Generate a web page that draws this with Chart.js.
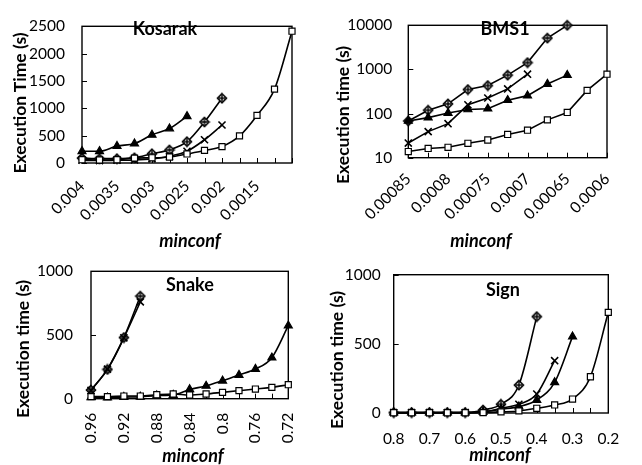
<!DOCTYPE html>
<html><head><meta charset="utf-8">
<script src="https://cdn.jsdelivr.net/npm/chart.js@4.4.1/dist/chart.umd.min.js"></script>
<style>
body{margin:0;background:#fff;width:642px;height:465px;position:relative;overflow:hidden;}
canvas{position:absolute;}
.t{position:absolute;white-space:nowrap;font-family:Lato,sans-serif;font-weight:bold;font-size:18px;color:#000;transform:translate(-50%,-50%);line-height:1;}
.r{font-size:17.5px;transform:translate(-50%,-50%) rotate(-90deg);}
.i{font-style:italic;}
</style></head><body>
<canvas id="ck" width="321" height="232" style="left:0;top:0"></canvas>
<canvas id="cb" width="321" height="232" style="left:321px;top:0"></canvas>
<canvas id="cs" width="321" height="233" style="left:0;top:232px"></canvas>
<canvas id="cg" width="321" height="233" style="left:321px;top:232px"></canvas>

<div class="t r" style="left:20px;top:103px">Execution Time (s)</div>
<div class="t" style="left:165px;top:28px">Kosarak</div>
<div class="t i" style="left:190px;top:240px">minconf</div>

<div class="t r" style="left:343px;top:115px">Execution time (s)</div>
<div class="t" style="left:505px;top:28px">BMS1</div>
<div class="t i" style="left:481px;top:240px">minconf</div>

<div class="t r" style="left:23px;top:349px">Execution time (s)</div>
<div class="t" style="left:190px;top:284px">Snake</div>
<div class="t i" style="left:193px;top:455px">minconf</div>

<div class="t r" style="left:337px;top:360px">Execution time (s)</div>
<div class="t" style="left:503px;top:289px">Sign</div>
<div class="t i" style="left:500px;top:454px">minconf</div>

<script>
// ---------------- DATA ----------------
const kosarakCats = ['0.004','0.00375','0.0035','0.00325','0.003','0.00275','0.0025','0.00225','0.002','0.00175','0.0015','0.00125','0.001'];
const kosarakTickLabels = ['0.004','0.0035','0.003','0.0025','0.002','0.0015'];
const kosarakDiamond = [90, 80, 80, 95, 170, 240, 390, 750, 1185];
const kosarakCross = [50, 45, 50, 55, 75, 125, 215, 425, 695];
const kosarakTriangle = [215, 215, 310, 355, 515, 630, 855];
const kosarakSquare = [60, 55, 60, 90, 95, 110, 165, 230, 300, 495, 870, 1350, 2410];
const kosarakYTicks = [0, 500, 1000, 1500, 2000, 2500];

const bmsCats = ['0.00085','0.000825','0.0008','0.000775','0.00075','0.000725','0.0007','0.000675','0.00065','0.000625','0.0006'];
const bmsTickLabels = ['0.00085','0.0008','0.00075','0.0007','0.00065','0.0006'];
const bmsDiamond = [68, 119, 166, 351, 432, 743, 1429, 5128, 10000];
const bmsCross = [21.5, 39, 59, 158, 225, 362, 780];
const bmsTriangle = [68, 81, 103, 124, 129, 201, 255, 468, 743];
const bmsSquare = [13.8, 16.2, 17.2, 21.2, 25.2, 33.6, 42, 72, 106, 335, 780];
const bmsYTicks = [10, 100, 1000, 10000];

const snakeCats = ['0.96','0.94','0.92','0.9','0.88','0.86','0.84','0.82','0.8','0.78','0.76','0.74','0.72'];
const snakeTickLabels = ['0.96','0.92','0.88','0.84','0.8','0.76','0.72'];
const snakeDiamond = [68, 230, 480, 805];
const snakeCross = [65, 232, 478, 760];
const snakeTriangle = [10, 8, 12, 15, 24, 29, 73, 100, 141, 186, 233, 322, 573];
const snakeSquare = [16, 16, 21, 21, 31, 37, 29, 37, 50, 63, 76, 89, 110];
const snakeYTicks = [0, 500, 1000];

const signCats = ['0.8','0.75','0.7','0.65','0.6','0.55','0.5','0.45','0.4','0.35','0.3','0.25','0.2'];
const signTickLabels = ['0.8','0.7','0.6','0.5','0.4','0.3','0.2'];
const signDiamond = [3, 3, 3, 3, 3, 22, 63, 202, 697];
const signCross = [3, 3, 3, 3, 3, 8, 34, 63, 137, 378];
const signTriangle = [3, 3, 3, 3, 3, 8, 27, 46, 94, 222, 552];
const signSquare = [2, 2, 2, 2, 2, 3, 8, 15, 34, 58, 101, 262, 728];
const signYTicks = [0, 500, 1000];

// ---------------- RENDER ----------------
const diamondImg = (() => {
  const c = document.createElement('canvas'); c.width = 12; c.height = 12;
  const g = c.getContext('2d');
  g.translate(6, 6);
  g.beginPath();
  g.moveTo(0, -4.5); g.lineTo(4.5, 0); g.lineTo(0, 4.5); g.lineTo(-4.5, 0); g.closePath();
  g.fillStyle = '#fff'; g.fill();
  g.strokeStyle = '#000'; g.lineWidth = 1.6; g.stroke();
  g.beginPath(); g.moveTo(0, -3); g.lineTo(0, 3); g.moveTo(-3, 0); g.lineTo(3, 0);
  g.lineWidth = 1.4; g.stroke();
  return c;
})();

const framePlugin = {
  id: 'frame',
  beforeDatasetsDraw(chart) {
    const {ctx, chartArea: a, scales: {x, y}} = chart;
    ctx.save();
    ctx.strokeStyle = '#000';
    ctx.lineWidth = 1;
    ctx.beginPath();
    x.ticks.forEach((t, i) => { const p = Math.round(x.getPixelForTick(i)) + 0.5; ctx.moveTo(p, a.bottom); ctx.lineTo(p, a.bottom - 5); });
    y.ticks.forEach((t, i) => { const p = Math.round(y.getPixelForTick(i)) + 0.5; ctx.moveTo(a.left, p); ctx.lineTo(a.left + 5, p); });
    ctx.stroke();
    ctx.lineWidth = 1.4;
    ctx.strokeRect(a.left, a.top, a.right - a.left, a.bottom - a.top);
    ctx.restore();
  }
};

function ds(data, style, smooth) {
  const base = {
    data, borderColor: '#000', borderWidth: 1.6, pointBorderColor: '#000',
    pointBorderWidth: 1.2, tension: smooth ? 0.4 : 0,
    cubicInterpolationMode: smooth ? 'monotone' : 'default', clip: 6
  };
  if (style === 'square') Object.assign(base, {pointStyle: 'rect', pointRadius: 4.3, pointBackgroundColor: '#fff'});
  if (style === 'triangle') Object.assign(base, {pointStyle: 'triangle', pointRadius: 4.6, pointBackgroundColor: '#000'});
  if (style === 'cross') Object.assign(base, {pointStyle: 'crossRot', pointRadius: 5, pointBorderWidth: 1.6});
  if (style === 'diamond') Object.assign(base, {pointStyle: diamondImg, pointRadius: 6});
  return base;
}

const tickFont = {family: 'Lato', size: 15.5};

function make(id, o) {
  const {cats, shown, series, yType, yMin, yMax, yTicks, rot, xPad, yPad, top, right, yW, xH, smooth} = o;
  return new Chart(document.getElementById(id), {
    type: 'line',
    data: {
      labels: cats,
      datasets: [
        ds(series[0], 'square', smooth),
        ds(series[1], 'triangle', smooth),
        ds(series[2], 'cross', smooth),
        ds(series[3], 'diamond', smooth)
      ]
    },
    options: {
      responsive: false, animation: false, devicePixelRatio: 1,
      layout: {padding: {top, right, left: 0, bottom: 0}},
      plugins: {legend: {display: false}, tooltip: {enabled: false}},
      scales: {
        x: {
          type: 'category', offset: false,
          grid: {display: false, drawTicks: false}, border: {display: false},
          ticks: {
            autoSkip: false, minRotation: rot, maxRotation: rot, padding: xPad,
            font: tickFont, color: '#000',
            callback: (v, i) => shown.includes(cats[i]) ? cats[i] : ''
          },
          afterFit: s => { s.height = xH; }
        },
        y: {
          type: yType, min: yMin, max: yMax,
          grid: {display: false, drawTicks: false}, border: {display: false},
          ticks: {padding: yPad, font: tickFont, color: '#000', callback: v => String(v)},
          afterBuildTicks: s => { s.ticks = yTicks.map(v => ({value: v})); },
          afterFit: s => { s.width = yW; }
        }
      }
    },
    plugins: [framePlugin]
  });
}

make('ck', {cats: kosarakCats, shown: kosarakTickLabels,
  series: [kosarakSquare, kosarakTriangle, kosarakCross, kosarakDiamond],
  yType: 'linear', yMin: 0, yMax: 2500, yTicks: kosarakYTicks, rot: 45, xPad: 14, yPad: 17,
  top: 14.5, right: 29, yW: 82, xH: 69, smooth: true});

make('cb', {cats: bmsCats, shown: bmsTickLabels,
  series: [bmsSquare, bmsTriangle, bmsCross, bmsDiamond],
  yType: 'logarithmic', yMin: 10, yMax: 10000, yTicks: bmsYTicks, rot: 45, xPad: 12, yPad: 16,
  top: 13.3, right: 35, yW: 87.3, xH: 74.3, smooth: false});

make('cs', {cats: snakeCats, shown: snakeTickLabels,
  series: [snakeSquare, snakeTriangle, snakeCross, snakeDiamond],
  yType: 'linear', yMin: 0, yMax: 1000, yTicks: snakeYTicks, rot: 90, xPad: 14, yPad: 18,
  top: 39.3, right: 32.7, yW: 91, xH: 66.3, smooth: true});

make('cg', {cats: signCats, shown: signTickLabels,
  series: [signSquare, signTriangle, signCross, signDiamond],
  yType: 'linear', yMin: 0, yMax: 1000, yTicks: signYTicks, rot: 0, xPad: 17, yPad: 13,
  top: 42.7, right: 33.7, yW: 72.7, xH: 52, smooth: true});
</script>
</body></html>
